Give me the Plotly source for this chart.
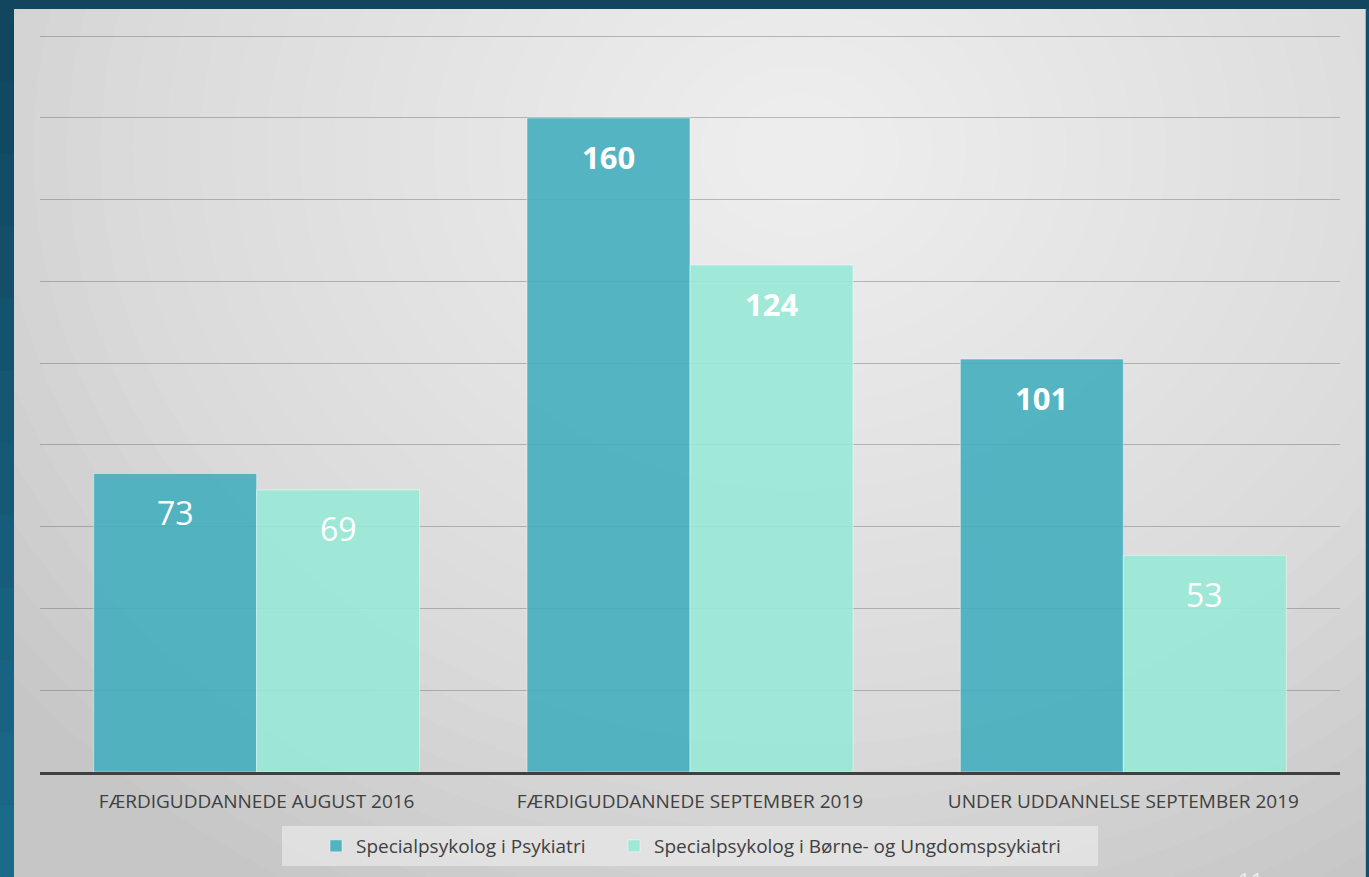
import plotly.graph_objects as go

categories = ["FÆRDIGUDDANNEDE AUGUST 2016",
              "FÆRDIGUDDANNEDE SEPTEMBER 2019",
              "UNDER UDDANNELSE SEPTEMBER 2019"]
series_names = ["Specialpsykolog i Psykiatri",
                "Specialpsykolog i Børne- og Ungdomspsykiatri"]
psykiatri = [73, 160, 101]
boerne = [69, 124, 53]

W, H = 1369, 877
L, R, T, B = 40, 29, 32, 105
PW, PH = W - L - R, H - T - B


def px(x):
    return (x - L) / PW


def py(y):
    return (H - B - y) / PH


colors = ["rgba(68,174,190,0.9)", "rgba(152,232,214,0.9)"]
legends = ["legend", "legend2"]

fig = go.Figure()
for name, vals, col, lg in zip(series_names, [psykiatri, boerne], colors, legends):
    fig.add_trace(go.Bar(
        x=categories, y=vals, name=name, legend=lg,
        marker=dict(color=col, line=dict(color="rgba(255,255,255,0.45)", width=1)),
        hoverinfo="skip",
    ))

shapes = []
# panel base
shapes.append(dict(type="rect", xref="paper", yref="paper", layer="below",
                   x0=px(14), x1=px(1366), y0=py(9), y1=py(H + 5),
                   fillcolor="#c6c6c6", line=dict(width=0)))
# radial-ish highlight
N = 30
cx, cy = 800, 150
rx, ry = 1000, 850
for k in range(N):
    f = 1 - k / N
    shapes.append(dict(type="circle", xref="paper", yref="paper", layer="below",
                       x0=px(cx - rx * f), x1=px(cx + rx * f),
                       y0=py(cy - ry * f), y1=py(cy + ry * f),
                       fillcolor="rgba(255,255,255,0.05)", line=dict(width=0)))
# outer frame strips (drawn over the highlight spill)
shapes.append(dict(type="rect", xref="paper", yref="paper", layer="below",
                   x0=px(-5), x1=px(W + 5), y0=py(-5), y1=py(9),
                   fillcolor="#12465f", line=dict(width=0)))
steps = 12
for i in range(steps):
    y0 = 9 + (H - 9) * i / steps
    y1 = 9 + (H - 9) * (i + 1) / steps
    t = i / (steps - 1)
    r = int(18 + (26 - 18) * t)
    g = int(70 + (106 - 70) * t)
    b = int(95 + (138 - 95) * t)
    shapes.append(dict(type="rect", xref="paper", yref="paper", layer="below",
                       x0=px(-5), x1=px(14), y0=py(y0), y1=py(y1 + 1),
                       fillcolor=f"rgb({r},{g},{b})", line=dict(width=0)))
shapes.append(dict(type="rect", xref="paper", yref="paper", layer="below",
                   x0=px(1366), x1=px(W + 5), y0=py(9), y1=py(H + 5),
                   fillcolor="#14506c", line=dict(width=0)))
# panel right border
shapes.append(dict(type="line", xref="paper", yref="paper", layer="below",
                   x0=px(1365.5), x1=px(1365.5), y0=py(9), y1=py(H + 5),
                   line=dict(color="#b0b0b0", width=1)))
# legend background box
shapes.append(dict(type="rect", xref="paper", yref="paper", layer="below",
                   x0=px(282), x1=px(1098), y0=py(826), y1=py(866),
                   fillcolor="rgba(235,235,235,0.65)", line=dict(width=0)))

annotations = []
for vals, shift in zip([psykiatri, boerne], [-81.5, 81.5]):
    for c, v in zip(categories, vals):
        big = v >= 100
        annotations.append(dict(
            x=c, y=v, xref="x", yref="y", xshift=shift, yshift=-39,
            yanchor="middle", showarrow=False, text=str(v),
            font=dict(family="Open Sans", size=31 if big else 32,
                      color="white", weight="bold" if big else "normal"),
        ))
annotations.append(dict(x=px(1250), y=py(863), xref="paper", yref="paper",
                        xanchor="center", yanchor="top", showarrow=False,
                        text="11", font=dict(family="Open Sans", size=22, color="#ececec")))

legend_font = dict(family="Open Sans", size=19, color="#404040")
fig.update_layout(
    width=W, height=H,
    margin=dict(l=L, r=R, t=T, b=B, pad=0, autoexpand=False),
    paper_bgcolor="#14506c",
    plot_bgcolor="rgba(0,0,0,0)",
    barmode="group", bargap=0.2477, bargroupgap=0,
    shapes=shapes, annotations=annotations,
    showlegend=True,
    legend=dict(orientation="h", x=px(316), xanchor="left", y=py(827), yanchor="top",
                bgcolor="rgba(0,0,0,0)", font=legend_font,
                itemclick=False, itemdoubleclick=False),
    legend2=dict(orientation="h", x=px(614), xanchor="left", y=py(827), yanchor="top",
                 bgcolor="rgba(0,0,0,0)", font=legend_font,
                 itemclick=False, itemdoubleclick=False),
    xaxis=dict(showline=True, linecolor="#404040", linewidth=3, ticks="",
               tickfont=dict(family="Open Sans", size=19, color="#404040"),
               ticklabelstandoff=10, automargin=False,
               showgrid=False, fixedrange=True),
    yaxis=dict(range=[0, 181], tickvals=[20, 40, 60, 80, 100, 120, 140, 160, 180],
               showticklabels=False, showline=False, automargin=False,
               gridcolor="rgba(100,100,100,0.4)", gridwidth=1, zeroline=False,
               fixedrange=True),
)

fig.write_html(
    "out.html",
    config={"displayModeBar": False},
    post_script="document.body.style.margin='0';document.body.style.background='#14506c';",
)
